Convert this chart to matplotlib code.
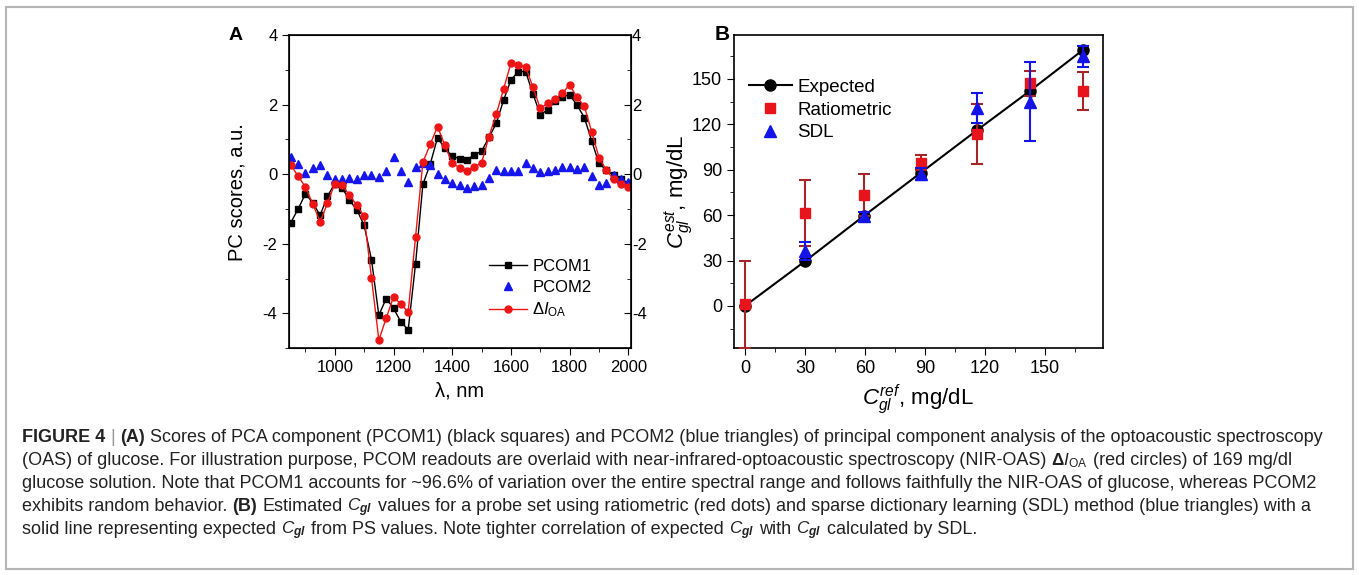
import matplotlib
matplotlib.use("Agg")
import matplotlib.pyplot as plt
from matplotlib.lines import Line2D
from matplotlib.patches import Rectangle
from matplotlib.ticker import MultipleLocator
from matplotlib.transforms import IdentityTransform
import numpy as np

plt.rcParams['font.family'] = ['Liberation Sans', 'DejaVu Sans']
plt.rcParams['axes.unicode_minus'] = False
plt.rcParams['mathtext.fontset'] = 'custom'
plt.rcParams['mathtext.rm'] = 'Liberation Sans'
plt.rcParams['mathtext.it'] = 'Liberation Sans:italic'
plt.rcParams['mathtext.bf'] = 'Liberation Sans:bold'
plt.rcParams['mathtext.bfit'] = 'Liberation Sans:italic:bold'

# ---- panel A data ----
wavelength = list(range(850, 2001, 25))
pcom1 = [-1.39, -1.00, -0.56, -0.82, -1.18, -0.63, -0.27, -0.39, -0.75, -1.02,
         -1.47, -2.45, -4.05, -3.57, -3.85, -4.24, -4.47, -2.58, -0.29, 0.29,
         1.05, 0.74, 0.52, 0.45, 0.42, 0.55, 0.66, 1.06, 1.46, 2.13,
         2.71, 2.95, 2.95, 2.31, 1.71, 1.85, 2.09, 2.23, 2.28, 1.99,
         1.63, 0.96, 0.31, 0.12, -0.03, -0.13, -0.27]
pcom2 = [0.50, 0.29, 0.05, 0.18, 0.26, -0.01, -0.13, -0.13, -0.10, -0.13,
         -0.03, -0.03, -0.08, 0.10, 0.50, 0.10, -0.22, 0.21, 0.31, 0.26,
         0.00, -0.15, -0.25, -0.32, -0.39, -0.35, -0.32, -0.11, 0.13, 0.09,
         0.09, 0.09, 0.33, 0.19, 0.07, 0.09, 0.12, 0.21, 0.21, 0.16,
         0.21, -0.05, -0.32, -0.24, -0.03, -0.15, -0.22]
delta_ioa = [0.26, -0.05, -0.37, -0.85, -1.37, -0.83, -0.27, -0.32, -0.60, -0.89,
             -1.21, -2.98, -4.76, -4.14, -3.52, -3.73, -3.95, -1.81, 0.34, 0.86,
             1.37, 0.83, 0.31, 0.19, 0.10, 0.21, 0.33, 1.08, 1.72, 2.45,
             3.19, 3.14, 3.08, 2.50, 1.89, 2.04, 2.15, 2.33, 2.57, 2.21,
             1.96, 1.22, 0.48, 0.12, -0.15, -0.27, -0.37]

# ---- panel B data ----
c_ref = [0, 30, 59.5, 88, 116, 142.5, 169]
expected = [0, 29.5, 59.5, 88, 116, 142, 169]
ratiometric = [1, 61.5, 73.2, 94.7, 113.5, 147, 142]
ratiometric_err = [29, 22, 14, 5, 20, 8, 12.5]
sdl = [np.nan, 36.5, 59.3, 87.4, 131, 135, 165]
sdl_err = [np.nan, 6, 3, 4, 10, 26, 7]

W, H = 1359, 575
fig = plt.figure(figsize=(W / 100, H / 100), dpi=100)

def box(l, t, r, b):
    # pixel box -> figure fractions
    return [l / W, (H - b) / H, (r - l) / W, (b - t) / H]

# ================= panel A =================
axA = fig.add_axes(box(289.3, 35, 630.7, 348.3))
axA.plot(wavelength, pcom1, '-s', color='black', ms=4.5, lw=1.0, label='PCOM1')
axA.plot(wavelength, pcom2, '^', color='#1515ee', ms=5.5, ls='none', label='PCOM2')
axA.plot(wavelength, delta_ioa, '-o', color='#ee1515', ms=5, lw=1.0,
         label=r'$\Delta I_{\mathrm{OA}}$')
axA.set_xlim(845, 2008)
axA.set_ylim(-5, 4)
axA.xaxis.set_major_locator(MultipleLocator(200))
axA.xaxis.set_minor_locator(MultipleLocator(100))
axA.yaxis.set_major_locator(MultipleLocator(2))
axA.yaxis.set_minor_locator(MultipleLocator(1))
axA.tick_params(which='both', direction='out', labelsize=12, top=False, right=False)
axA.tick_params(which='major', length=5)
axA.tick_params(which='minor', length=3)
for s in axA.spines.values():
    s.set_linewidth(1.2)
axA.set_xlabel('λ, nm', fontsize=14.5)
axA.set_ylabel('PC scores, a.u.', fontsize=14.5)
axA.xaxis.set_label_coords(0.5, -0.105)
axA.yaxis.set_label_coords(-0.125, 0.5)

axA2 = axA.twinx()
axA2.set_ylim(-5, 4)
axA2.yaxis.set_major_locator(MultipleLocator(2))
axA2.yaxis.set_minor_locator(MultipleLocator(1))
axA2.tick_params(which='both', direction='in', labelsize=12, pad=1)
axA2.tick_params(which='major', length=5)
axA2.tick_params(which='minor', length=3)

axA.legend(loc='upper left', bbox_to_anchor=(0.585, 0.285), frameon=False,
           fontsize=12, handlelength=2.3, handletextpad=0.3, labelspacing=0.35,
           borderpad=0, borderaxespad=0, markerscale=1.0)

fig.text(236 / W, (H - 35) / H, 'A', fontsize=14, fontweight='bold', ha='center', va='center')

# ================= panel B =================
axB = fig.add_axes(box(734, 35, 1102.7, 348.3))
axB.plot(c_ref, expected, '-o', color='black', ms=8, lw=1.5, zorder=2)
axB.errorbar(c_ref, ratiometric, yerr=ratiometric_err, fmt='s', color='#e8141c',
             ecolor='#a52626', ms=7.5, capsize=4.5, elinewidth=1.5, capthick=1.5, zorder=3)
axB.errorbar(c_ref, sdl, yerr=sdl_err, fmt='^', color='#1414e6',
             ecolor='#1414e6', ms=8.5, capsize=4.5, elinewidth=1.5, capthick=1.5, zorder=4)
axB.set_xlim(-5.5, 179)
axB.set_ylim(-28, 179)
axB.xaxis.set_major_locator(MultipleLocator(30))
axB.xaxis.set_minor_locator(MultipleLocator(15))
axB.yaxis.set_major_locator(MultipleLocator(30))
axB.yaxis.set_minor_locator(MultipleLocator(15))
axB.tick_params(which='both', direction='out', labelsize=13, top=False, right=False)
axB.tick_params(which='major', length=5)
axB.tick_params(which='minor', length=3)
for s in axB.spines.values():
    s.set_linewidth(1.2)
axB.set_xlabel(r'$C_{gl}^{ref}$, mg/dL', fontsize=16)
axB.set_ylabel(r'$C_{gl}^{est}$, mg/dL', fontsize=16)
axB.xaxis.set_label_coords(0.5, -0.11)
axB.yaxis.set_label_coords(-0.105, 0.5)

handles = [
    Line2D([], [], color='black', marker='o', ms=8, lw=1.5),
    Line2D([], [], color='#e8141c', marker='s', ms=7.5, ls='none'),
    Line2D([], [], color='#1414e6', marker='^', ms=8.5, ls='none'),
]
axB.legend(handles, ['Expected', 'Ratiometric', 'SDL'], loc='upper left',
           bbox_to_anchor=(0.04, 0.86), frameon=False, fontsize=13.5,
           handlelength=2.3, handletextpad=0.3, labelspacing=0.3,
           borderpad=0, borderaxespad=0)

fig.text(722 / W, (H - 34) / H, 'B', fontsize=15, fontweight='bold', ha='center', va='center')

# ================= caption =================
cap_family = ['Liberation Sans', 'DejaVu Sans']
cap_size = 13
cgl = r'$C_{\mathbfit{gl}}$'
caption = [
    [('FIGURE 4', 'b'), (' | ', 'g'), ('(A)', 'b'),
     (' Scores of PCA component (PCOM1) (black squares) and PCOM2 (blue triangles) of principal component analysis of the optoacoustic spectroscopy', 'n')],
    [('(OAS) of glucose. For illustration purpose, PCOM readouts are overlaid with near-infrared-optoacoustic spectroscopy (NIR-OAS) ', 'n'),
     (r'$\mathbf{\Delta} I_{\mathrm{OA}}$', 'm'), (' (red circles) of 169 mg/dl', 'n')],
    [('glucose solution. Note that PCOM1 accounts for ~96.6% of variation over the entire spectral range and follows faithfully the NIR-OAS of glucose, whereas PCOM2', 'n')],
    [('exhibits random behavior. ', 'n'), ('(B)', 'b'), (' Estimated ', 'n'), (cgl, 'm'),
     (' values for a probe set using ratiometric (red dots) and sparse dictionary learning (SDL) method (blue triangles) with a', 'n')],
    [('solid line representing expected ', 'n'), (cgl, 'm'), (' from PS values. Note tighter correlation of expected ', 'n'),
     (cgl, 'm'), (' with ', 'n'), (cgl, 'm'), (' calculated by SDL.', 'n')],
]
cap_y = [442, 465, 488, 511, 534]

renderer = fig.canvas.get_renderer()

def text_width(s, **kw):
    t = fig.text(0, 0, s, transform=IdentityTransform(), **kw)
    w = t.get_window_extent(renderer=renderer).width
    t.remove()
    return w

space_w = text_width('x x', family=cap_family, size=cap_size) - text_width('xx', family=cap_family, size=cap_size)

for line, yy in zip(caption, cap_y):
    x = 22
    for s, style in line:
        kw = dict(family=cap_family, size=cap_size, color='#222222')
        if style == 'b':
            kw['weight'] = 'bold'
        elif style == 'g':
            kw['color'] = '#999999'
        elif style == 'm':
            kw = dict(size=cap_size * 0.95, color='#222222')
        lead = len(s) - len(s.lstrip(' '))
        trail = len(s) - len(s.rstrip(' '))
        core = s.strip(' ')
        x += lead * space_w
        t = fig.text(x, H - yy, core, transform=IdentityTransform(), va='baseline', ha='left', **kw)
        x += t.get_window_extent(renderer=renderer).width
        x += trail * space_w

fig.patches.append(Rectangle((6 / W, 6 / H), 1347 / W, 562 / H, transform=fig.transFigure,
                             fill=False, ec='#b5b5b5', lw=1.5))

fig.savefig('out.png', dpi=100)
